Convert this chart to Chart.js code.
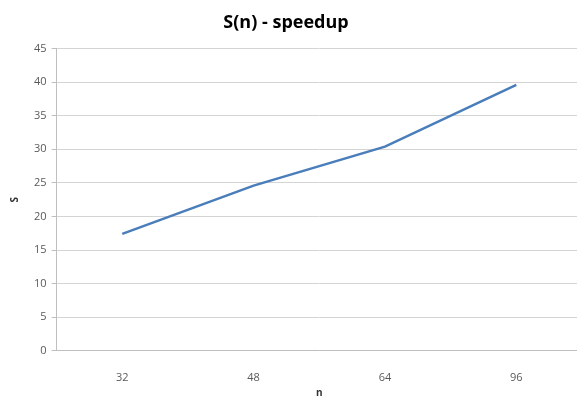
<!DOCTYPE html>
<html>
<head>
    <meta charset="UTF-8">
    <script src="https://cdn.jsdelivr.net/npm/chart.js@4/dist/chart.umd.min.js"></script>
    <style>
        html, body { margin: 0; padding: 0; background: #fff; overflow: hidden; }
        /* canvas is a bit wider than the page so the plot runs to the right edge */
        #wrap { width: 592px; height: 405px; margin-left: -10px; }
    </style>
</head>
<body>
<div id="wrap"><canvas id="speedup-graph"></canvas></div>

<script>
    // speedup measured for each n
    var nLabels = ["32", "48", "64", "96"];
    var speedup = [17.4, 24.6, 30.4, 39.6];
    var yMin = 0, yMax = 45, yStep = 5;

    var gridColor = "#d4d4d4";
    var textColor = "#595959";

    var ctx = document.getElementById("speedup-graph").getContext("2d");
    var SpeedupChart = new Chart(ctx, {
        type: 'line',
        data: {
            labels: nLabels,
            datasets: [{
                label: "S(n)",
                data: speedup,
                borderColor: "#4a7ebb",
                backgroundColor: "#4a7ebb",
                borderWidth: 2.5,
                pointRadius: 0,
                tension: 0,
                fill: false
            }]
        },
        options: {
            responsive: true,
            maintainAspectRatio: false,
            animation: false,
            layout: { padding: { left: 0, right: 0, top: 0, bottom: 6 } },
            plugins: {
                legend: { display: false },
                tooltip: { enabled: false },
                title: {
                    display: true,
                    text: "S(n) - speedup",
                    color: "#000",
                    font: { family: "Open Sans", size: 18, weight: 'bold' },
                    padding: { top: 12, bottom: 15 }
                }
            },
            scales: {
                x: {
                    offset: true,
                    grid: { display: false, drawTicks: false },
                    border: { color: "#bfbfbf", width: 1 },
                    ticks: {
                        color: textColor,
                        font: { family: "Open Sans", size: 11 },
                        padding: 20
                    },
                    title: {
                        display: true,
                        text: "n",
                        color: "#333",
                        font: { family: "Open Sans", size: 10, weight: 'bold' },
                        padding: { top: -17, bottom: 0 }
                    }
                },
                y: {
                    min: yMin,
                    max: yMax,
                    grid: {
                        color: gridColor,
                        lineWidth: 1,
                        tickLength: 5,
                        tickColor: "#bfbfbf"
                    },
                    border: { color: "#bfbfbf", width: 1 },
                    ticks: {
                        stepSize: yStep,
                        color: textColor,
                        font: { family: "Open Sans", size: 11 },
                        padding: 5
                    },
                    title: {
                        display: true,
                        text: "S",
                        color: "#333",
                        font: { family: "Open Sans", size: 10, weight: 'bold' },
                        padding: { top: 19, bottom: 8 }
                    }
                }
            }
        }
    });
</script>
</body>
</html>
